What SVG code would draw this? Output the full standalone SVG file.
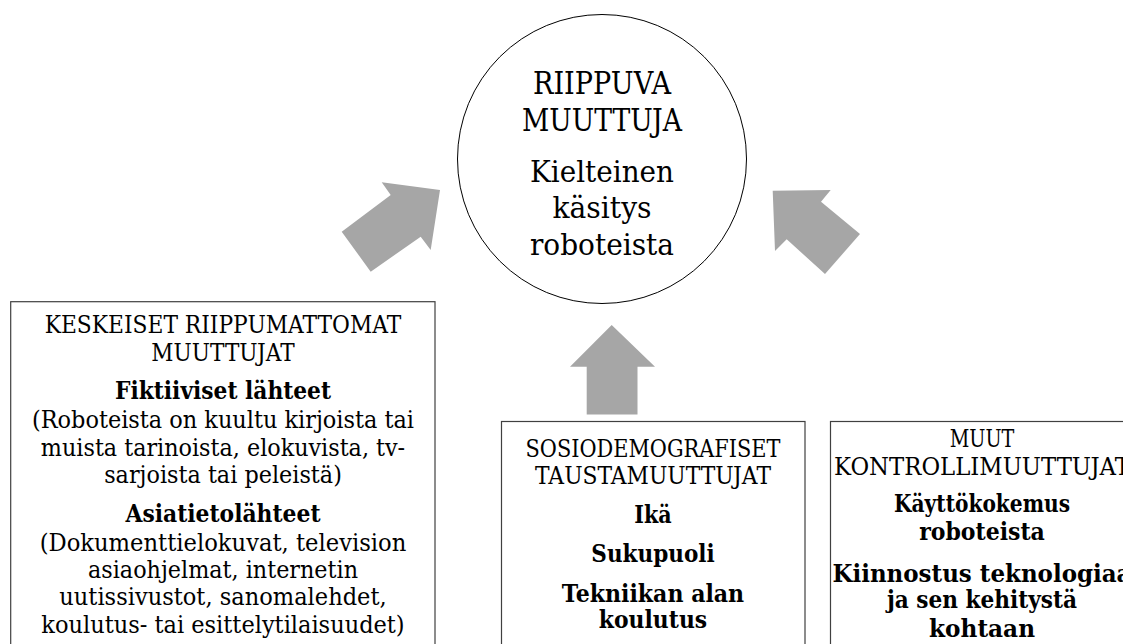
<svg xmlns="http://www.w3.org/2000/svg" width="1123" height="644" viewBox="0 0 1123 644">
<style>
  .bg { fill: #ffffff; }
  .box { fill: #ffffff; stroke: #404040; stroke-width: 1.2; }
  .circ { fill: #ffffff; stroke: #000000; stroke-width: 1; }
  .arrow { fill: #A6A6A6; stroke: none; }
  text { font-family: "DejaVu Serif", "Liberation Serif", serif; fill: #000000; text-anchor: middle; }
  .cap { font-size: 25px; }
  .big { font-size: 31px; }
  .bigl { font-size: 30px; }
  .body { font-size: 24px; }
  .bold { font-size: 24.5px; font-weight: bold; }
</style>
<rect class="bg" x="0" y="0" width="1123" height="644"/>

<g id="connectors">
  <polygon class="arrow" points="341.7,231.7 390.7,195 381.7,182.3 440,190 430.7,250 420.7,236.7 370.7,271.7"/>
  <polygon class="arrow" points="860,234 821,201.7 830.7,190 772.7,190.7 775,251 786.7,239.3 825,274"/>
  <polygon class="arrow" points="611.7,325 655,366.7 637.5,366.7 637.5,414.5 586.7,414.5 586.7,366.7 570,366.7"/>
</g>

<g id="node-riippuva">
  <circle class="circ" cx="602" cy="159" r="144.5"/>
  <text class="big" x="602" y="94.3" textLength="138" lengthAdjust="spacingAndGlyphs">RIIPPUVA</text>
  <text class="big" x="602" y="130.7" textLength="160" lengthAdjust="spacingAndGlyphs">MUUTTUJA</text>
  <text class="bigl" x="602" y="181.7" textLength="144" lengthAdjust="spacingAndGlyphs">Kielteinen</text>
  <text class="bigl" x="602" y="218" textLength="99" lengthAdjust="spacingAndGlyphs">käsitys</text>
  <text class="bigl" x="602" y="255" textLength="144" lengthAdjust="spacingAndGlyphs">roboteista</text>
</g>

<g id="node-keskeiset">
  <rect class="box" x="10.7" y="301.7" width="424.3" height="360"/>
  <text class="cap" x="223" y="333.3" textLength="356.7" lengthAdjust="spacingAndGlyphs">KESKEISET RIIPPUMATTOMAT</text>
  <text class="cap" x="223" y="361" textLength="143.3" lengthAdjust="spacingAndGlyphs">MUUTTUJAT</text>
  <text class="bold" x="223" y="399.3" textLength="216" lengthAdjust="spacingAndGlyphs">Fiktiiviset lähteet</text>
  <text class="body" x="223" y="428.3" textLength="382" lengthAdjust="spacingAndGlyphs">(Roboteista on kuultu kirjoista tai</text>
  <text class="body" x="223" y="455.7" textLength="364.3" lengthAdjust="spacingAndGlyphs">muista tarinoista, elokuvista, tv-</text>
  <text class="body" x="223" y="483.3" textLength="237.7" lengthAdjust="spacingAndGlyphs">sarjoista tai peleistä)</text>
  <text class="bold" x="223" y="521.7" textLength="195" lengthAdjust="spacingAndGlyphs">Asiatietolähteet</text>
  <text class="body" x="223" y="550.7" textLength="366.7" lengthAdjust="spacingAndGlyphs">(Dokumenttielokuvat, television</text>
  <text class="body" x="223" y="578.3" textLength="270" lengthAdjust="spacingAndGlyphs">asiaohjelmat, internetin</text>
  <text class="body" x="223" y="605" textLength="327.3" lengthAdjust="spacingAndGlyphs">uutissivustot, sanomalehdet,</text>
  <text class="body" x="223" y="633.3" textLength="363.3" lengthAdjust="spacingAndGlyphs">koulutus- tai esittelytilaisuudet)</text>
</g>

<g id="node-sosiodemografiset">
  <rect class="box" x="501.5" y="421.5" width="303.5" height="240"/>
  <text class="cap" x="653" y="456.7" textLength="255" lengthAdjust="spacingAndGlyphs">SOSIODEMOGRAFISET</text>
  <text class="cap" x="653" y="484" textLength="236" lengthAdjust="spacingAndGlyphs">TAUSTAMUUTTUJAT</text>
  <text class="bold" x="653" y="522.7" textLength="37.3" lengthAdjust="spacingAndGlyphs">Ikä</text>
  <text class="bold" x="653" y="561.7" textLength="123.3" lengthAdjust="spacingAndGlyphs">Sukupuoli</text>
  <text class="bold" x="653" y="601.7" textLength="182.3" lengthAdjust="spacingAndGlyphs">Tekniikan alan</text>
  <text class="bold" x="653" y="628.3" textLength="108.3" lengthAdjust="spacingAndGlyphs">koulutus</text>
</g>

<g id="node-muut">
  <rect class="box" x="830.5" y="421.5" width="304" height="240"/>
  <text class="cap" x="982" y="446.7" textLength="64.7" lengthAdjust="spacingAndGlyphs">MUUT</text>
  <text class="cap" x="982" y="475" textLength="296" lengthAdjust="spacingAndGlyphs">KONTROLLIMUUTTUJAT</text>
  <text class="bold" x="982" y="511.7" textLength="176" lengthAdjust="spacingAndGlyphs">Käyttökokemus</text>
  <text class="bold" x="982" y="540" textLength="125.7" lengthAdjust="spacingAndGlyphs">roboteista</text>
  <text class="bold" x="982" y="581.7" textLength="299" lengthAdjust="spacingAndGlyphs">Kiinnostus teknologiaa</text>
  <text class="bold" x="982" y="608.3" textLength="190" lengthAdjust="spacingAndGlyphs">ja sen kehitystä</text>
  <text class="bold" x="982" y="636.7" textLength="106" lengthAdjust="spacingAndGlyphs">kohtaan</text>
</g>
</svg>
